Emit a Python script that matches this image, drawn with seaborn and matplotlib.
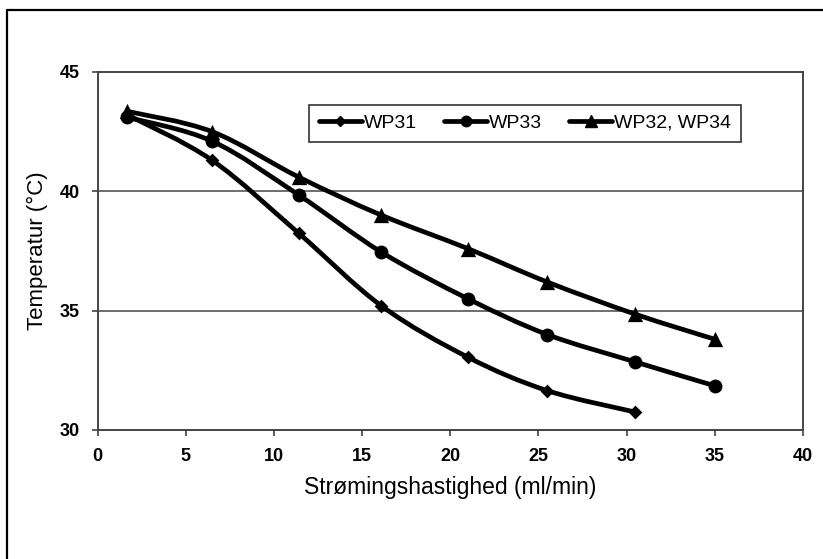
import numpy as np
import pandas as pd
import matplotlib
matplotlib.use("Agg")
import matplotlib.pyplot as plt
from matplotlib.path import Path
from matplotlib.patches import PathPatch
from matplotlib.lines import Line2D
import seaborn as sns

# Flow rate (ml/min) and outlet temperature (°C) per well group
flow_wp31 = [1.7, 6.5, 11.4, 16.1, 21.0, 25.5, 30.5]
temp_wp31 = [43.2, 41.3, 38.25, 35.2, 33.05, 31.65, 30.75]

flow_wp33 = [1.7, 6.5, 11.4, 16.1, 21.0, 25.5, 30.5, 35.0]
temp_wp33 = [43.1, 42.1, 39.85, 37.45, 35.5, 34.0, 32.85, 31.85]

flow_wp32_34 = [1.7, 6.5, 11.4, 16.1, 21.0, 25.5, 30.5, 35.0]
temp_wp32_34 = [43.35, 42.5, 40.6, 39.0, 37.6, 36.2, 34.85, 33.8]

series_names = ["WP31", "WP33", "WP32, WP34"]
x_ticks = [0, 5, 10, 15, 20, 25, 30, 35, 40]
y_ticks = [30, 35, 40, 45]

series = [
    (series_names[0], flow_wp31, temp_wp31, "D", 7.0),
    (series_names[1], flow_wp33, temp_wp33, "o", 10.0),
    (series_names[2], flow_wp32_34, temp_wp32_34, "^", 11.0),
]

sns.set_theme(style="white")
plt.rcParams["font.family"] = ["Liberation Sans", "DejaVu Sans"]

fig = plt.figure(figsize=(8.23, 5.59), dpi=100)
ax = fig.add_axes([97.5 / 823, 1 - 430 / 559, (803 - 97.5) / 823, (430 - 72) / 559])


def smooth_path(xs, ys):
    """Cubic Bezier path through the points (Catmull-Rom style smoothing)."""
    pts = np.column_stack([xs, ys]).astype(float)
    n = len(pts)
    verts = [pts[0]]
    codes = [Path.MOVETO]
    for i in range(n - 1):
        p0 = pts[i - 1] if i > 0 else pts[i]
        p1 = pts[i]
        p2 = pts[i + 1]
        p3 = pts[i + 2] if i + 2 < n else pts[i + 1]
        c1 = p1 + (p2 - p0) / 6.0
        c2 = p2 - (p3 - p1) / 6.0
        verts += [c1, c2, p2]
        codes += [Path.CURVE4] * 3
    return Path(verts, codes)


handles = []
for name, xs, ys, marker, msize in series:
    ax.add_patch(PathPatch(smooth_path(xs, ys), facecolor="none",
                           edgecolor="black", lw=3.4, zorder=3,
                           capstyle="round", joinstyle="round"))
    df = pd.DataFrame({"flow": xs, "temp": ys})
    sns.scatterplot(data=df, x="flow", y="temp", marker=marker,
                    s=msize ** 2, color="black", linewidth=0, ax=ax,
                    zorder=4, legend=False)
    handles.append(Line2D([], [], color="black", lw=3.4, marker=marker,
                          markersize=msize * 0.75, label=name))

ax.set_xlim(0, 40)
ax.set_ylim(30, 45)
ax.set_xticks(x_ticks)
ax.set_yticks(y_ticks)
ax.set_xticklabels([str(t) for t in x_ticks])
ax.set_yticklabels([str(t) for t in y_ticks])

for t in y_ticks[1:-1]:
    ax.axhline(t, color="#555555", lw=1.2, zorder=1)

for sp in ax.spines.values():
    sp.set_visible(True)
    sp.set_color("#444444")
    sp.set_linewidth(1.4)

ax.tick_params(axis="both", direction="out", length=4.5, width=1.2,
               color="#444444", pad=8.5, labelsize=13, labelcolor="black")
for lab in ax.get_xticklabels() + ax.get_yticklabels():
    lab.set_fontweight("bold")
ax.xaxis.set_ticks_position("bottom")
ax.yaxis.set_ticks_position("left")

ax.set_xlabel("Strømingshastighed (ml/min)", fontsize=16.5, labelpad=8,
              color="black")
ax.set_ylabel("Temperatur (°C)", fontsize=16, labelpad=8, color="black")

leg = ax.legend(handles=handles, loc="center", bbox_to_anchor=(0.606, 0.857),
                ncol=3, frameon=True, fontsize=14, handlelength=2.2,
                handletextpad=0.1, columnspacing=1.4, borderpad=0.5,
                fancybox=False)
leg.get_frame().set_edgecolor("black")
leg.get_frame().set_linewidth(1.2)
for txt in leg.get_texts():
    txt.set_color("black")

# Outer frame (top and left edges)
fig.add_artist(Line2D([7.5 / 823, 1.0], [1 - 10 / 559, 1 - 10 / 559],
                      transform=fig.transFigure, color="black", lw=1.6))
fig.add_artist(Line2D([7.5 / 823, 7.5 / 823], [0.0, 1 - 10 / 559],
                      transform=fig.transFigure, color="black", lw=1.6))

fig.savefig("out.png", dpi=100)
